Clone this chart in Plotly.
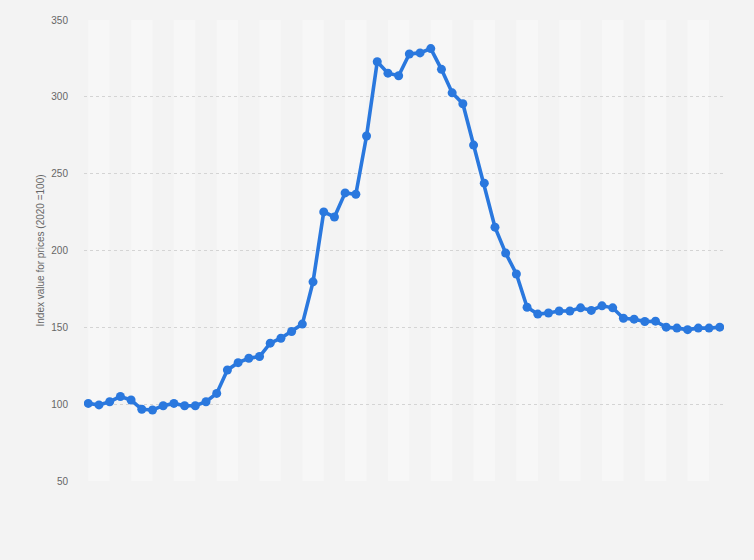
import plotly.graph_objects as go

# Index values (2020 = 100), 60 consecutive periods
index_values = [
    100.5, 99.5, 101.6, 105.0, 102.7, 96.7, 96.2, 99.0, 100.5, 99.0,
    99.0, 101.6, 107.0, 122.2, 127.0, 129.9, 131.0, 139.7, 142.9, 147.3,
    152.1, 179.6, 225.1, 221.8, 237.5, 236.6, 274.5, 322.8, 315.4, 313.7,
    327.9, 328.6, 331.4, 317.9, 302.6, 295.5, 268.6, 243.8, 215.2, 198.3,
    184.7, 163.1, 158.6, 159.3, 160.6, 160.6, 162.7, 161.0, 164.0, 162.7,
    155.9, 155.3, 153.8, 154.0, 150.1, 149.5, 148.5, 149.5, 149.5, 150.1,
]
periods = list(range(len(index_values)))
y_ticks = [50, 100, 150, 200, 250, 300, 350]
y_title = "Index value for prices (2020 =100)"

fig = go.Figure()

# alternating light column bands, each spanning two periods
shapes = []
for start in range(0, len(periods), 4):
    shapes.append(dict(
        type="rect", xref="x", yref="paper",
        x0=start, x1=start + 2, y0=0, y1=1,
        fillcolor="#f7f7f7", line=dict(width=0), layer="below",
    ))

fig.add_trace(go.Scatter(
    x=periods, y=index_values, mode="lines+markers",
    line=dict(color="#2a78de", width=3.6),
    marker=dict(color="#2a78de", size=9),
    hoverinfo="y", showlegend=False,
))

fig.update_layout(
    width=754, height=560,
    margin=dict(l=84, r=30, t=20, b=79),
    paper_bgcolor="#f3f3f3",
    plot_bgcolor="#f3f3f3",
    shapes=shapes,
    font=dict(family="Liberation Sans, Arial, sans-serif", color="#666666", size=10),
    xaxis=dict(
        range=[-0.4, 59.4], showgrid=False, zeroline=False,
        showticklabels=False, ticks="", showline=False, fixedrange=True,
    ),
    yaxis=dict(
        range=[50, 350], tickvals=y_ticks, ticktext=[str(v) for v in y_ticks],
        showgrid=True, gridcolor="#d4d4d4", griddash="dot", gridwidth=1,
        zeroline=False, showline=False,
        ticks="outside", ticklen=13, tickcolor="rgba(0,0,0,0)",
        tickfont=dict(size=10, color="#666666"),
        title=dict(text=y_title, font=dict(size=10, color="#666666"), standoff=4),
    ),
)

fig.write_html(
    "out.html",
    config={"displayModeBar": False},
    post_script="document.body.style.margin='0';document.body.style.padding='0';document.body.style.overflow='hidden';",
)
